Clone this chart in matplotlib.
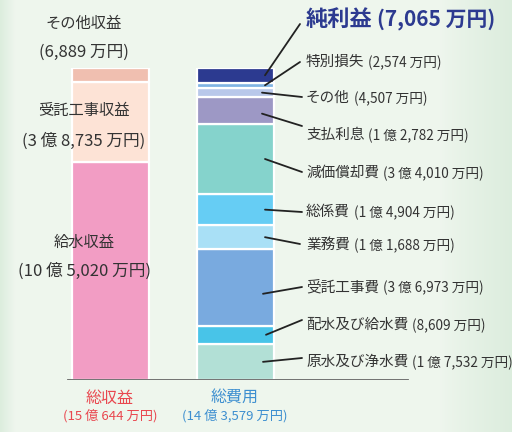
import matplotlib
matplotlib.use("Agg")
import matplotlib.pyplot as plt
import numpy as np

plt.rcParams['font.family'] = ['Noto Sans CJK JP', 'DejaVu Sans']

# revenue side (bottom -> top), 万円
rev_names = ['給水収益', '受託工事収益', 'その他収益']
rev_labels = ['(10 億 5,020 万円)', '(3 億 8,735 万円)', '(6,889 万円)']
rev_values = [105020, 38735, 6889]
rev_colors = ['#f29dc4', '#fde3d6', '#f0bfb0']

# expense side (bottom -> top), 万円
exp_names = ['原水及び浄水費', '配水及び給水費', '受託工事費', '業務費', '総係費',
             '減価償却費', '支払利息', 'その他', '特別損失', '純利益']
exp_labels = ['(1 億 7,532 万円)', '(8,609 万円)', '(3 億 6,973 万円)', '(1 億 1,688 万円)',
              '(1 億 4,904 万円)', '(3 億 4,010 万円)', '(1 億 2,782 万円)', '(4,507 万円)',
              '(2,574 万円)', '(7,065 万円)']
exp_values = [17532, 8609, 36973, 11688, 14904, 34010, 12782, 4507, 2574, 7065]
exp_colors = ['#b2e0d6', '#48c4e8', '#79aadf', '#a9e0f6', '#66cdf4',
              '#85d3cc', '#9d98c5', '#b9c8ea', '#80b4e4', '#2c3a90']

totals = ['総収益', '総費用']
total_labels = ['(15 億 644 万円)', '(14 億 3,579 万円)']

W, H = 512, 432
fig = plt.figure(figsize=(W / 100, H / 100), dpi=100)

# background gradient
bg = fig.add_axes([0, 0, 1, 1], zorder=0)
xs = np.linspace(0, 1, W)
base = np.array([0.937, 0.965, 0.933])
dark = np.array([0.865, 0.930, 0.870])
w = np.clip((xs - 0.86) / 0.14, 0, 1) ** 0.8 + np.clip((0.03 - xs) / 0.03, 0, 1)
w = np.clip(w, 0, 1)
img = base[None, :] * (1 - w[:, None]) + dark[None, :] * w[:, None]
img = np.repeat(img[None, :, :], 10, axis=0)
bg.imshow(img, aspect='auto', extent=[0, W, H, 0])
bg.axis('off')

# bars
ax = fig.add_axes([0, 52 / H, 1, 312 / H], zorder=1)
ax.set_xlim(0, W)
ax.set_ylim(0, sum(rev_values))
ax.axis('off')
ax.patch.set_alpha(0)

rev_x, exp_x, bw = 110.5, 235.5, 77
rev_bottoms = np.concatenate([[0], np.cumsum(rev_values)[:-1]])
exp_bottoms = np.concatenate([[0], np.cumsum(exp_values)[:-1]])
ax.bar([rev_x] * 3, rev_values, bw, bottom=rev_bottoms, color=rev_colors,
       edgecolor='white', linewidth=1.6)
ax.bar([exp_x] * len(exp_values), exp_values, bw, bottom=exp_bottoms, color=exp_colors,
       edgecolor='white', linewidth=1.6)
ax.axhline(0, xmin=68 / W, xmax=407 / W, color='#666666', lw=2)

# text overlay in pixel coords
tx = fig.add_axes([0, 0, 1, 1], zorder=2)
tx.set_xlim(0, W)
tx.set_ylim(H, 0)
tx.axis('off')
tx.patch.set_alpha(0)

txt = '#333333'
rev_name_y = [242, 111, 23]
rev_val_y = [271, 141, 52]
for n, l, yn, yv in zip(rev_names, rev_labels, rev_name_y, rev_val_y):
    tx.text(84, yn, n, ha='center', va='center', fontsize=11, color=txt)
    tx.text(84, yv, l, ha='center', va='center', fontsize=12, color=txt)

tx.text(110, 398, totals[0], ha='center', va='center', fontsize=11.5, color='#e9474f')
tx.text(110, 416, total_labels[0], ha='center', va='center', fontsize=9.5, color='#e9474f')
tx.text(235, 398, totals[1], ha='center', va='center', fontsize=11.5, color='#3d8fd0')
tx.text(235, 416, total_labels[1], ha='center', va='center', fontsize=9.5, color='#3d8fd0')

# right labels with leader lines
label_y = [362, 325, 287, 245, 212, 173, 135, 98, 62, 19]
line_end = [(302, 358), (302, 320), (302, 287), (300, 244), (302, 212),
            (302, 172), (302, 126), (302, 97), (300, 62), (300, 24)]
line_start_x = [263, 266, 263, 265, 265, 265, 262, 262, 265, 265]
start_off = [0, 0, 3000, 0, 0, 0, 1500, 0, 0, 0]

renderer = fig.canvas.get_renderer()
for i, (n, l, v, b) in enumerate(zip(exp_names, exp_labels, exp_values, exp_bottoms)):
    top = (i == len(exp_names) - 1)
    col = '#2c3a90' if top else txt
    fs_n, fs_v = (16, 15) if top else (10.5, 9.8)
    t = tx.text(306, label_y[i], n, ha='left', va='center', fontsize=fs_n, color=col,
                fontweight='bold' if top else 'normal')
    ext = t.get_window_extent(renderer)
    tx.text(ext.x1 + 4, label_y[i] + (0.5 if top else 1), l, ha='left', va='center',
            fontsize=fs_v, color=col, fontweight='bold' if top else 'normal')
    tx.annotate('', xy=(line_start_x[i], b + v / 2 - start_off[i]), xycoords=ax.transData,
                xytext=line_end[i], textcoords='data',
                arrowprops=dict(arrowstyle='-', color='#222222', lw=1.3,
                                shrinkA=0, shrinkB=0))

fig.savefig('out.png', dpi=100)
